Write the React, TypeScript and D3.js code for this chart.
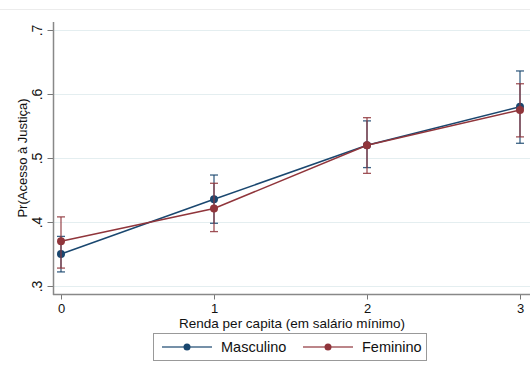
import React, { useRef, useEffect } from 'react';
import * as d3 from "d3";

// renda per capita (salário mínimo)
const categories = [0, 1, 2, 3];
const yTicks = [0.3, 0.4, 0.5, 0.6, 0.7];

const masculino = [0.35, 0.4355, 0.52, 0.58];
const masculinoLow = [0.322, 0.398, 0.485, 0.523];
const masculinoHigh = [0.3775, 0.4734, 0.558, 0.636];

const feminino = [0.37, 0.421, 0.52, 0.575];
const femininoLow = [0.328, 0.385, 0.476, 0.533];
const femininoHigh = [0.408, 0.4605, 0.563, 0.616];

const seriesNames = ["Masculino", "Feminino"];

export default function App() {
    const svgRef = useRef<SVGSVGElement>(null);

    useEffect(() => {
        var width = 530,
            height = 370;

        var svg = d3.select(svgRef.current);
        svg.selectAll("*").remove();

        var x = d3.scaleLinear().domain([0, 3]).range([61, 520]);
        var y = d3.scaleLinear().domain([0.3, 0.7]).range([286, 30]);

        var left = 53, bottom = 294, top = 22;
        var font = "'Liberation Sans', Arial, sans-serif";

        svg.append("rect").attr("width", width).attr("height", height).attr("fill", "#fff");
        // faint frame line at top
        svg.append("line")
            .attr("x1", 0).attr("x2", width).attr("y1", 9.5).attr("y2", 9.5)
            .attr("stroke", "#ececec");

        // grid
        svg.append("g").selectAll("line")
            .data(yTicks)
            .enter().append("line")
            .attr("x1", left).attr("x2", width)
            .attr("y1", d => Math.round(y(d)) + 0.5)
            .attr("y2", d => Math.round(y(d)) + 0.5)
            .attr("stroke", "#e4eef0");

        // y axis
        var yAxis = d3.axisLeft(y)
            .tickValues(yTicks)
            .tickSize(6)
            .tickSizeOuter(0)
            .tickFormat(d => d3.format(".1f")(d as number).replace(/^0/, ""));
        var gy = svg.append("g")
            .attr("transform", "translate(" + (left + 0.5) + ",0)")
            .call(yAxis);
        gy.select(".domain").remove();
        gy.selectAll(".tick line").attr("stroke", "#777");
        gy.selectAll(".tick text")
            .attr("transform", "rotate(-90)")
            .attr("x", 0).attr("y", -12).attr("dy", 0)
            .attr("text-anchor", "middle")
            .attr("font-family", font).attr("font-size", 14).attr("fill", "#111");
        svg.append("line")
            .attr("x1", left + 0.5).attr("x2", left + 0.5)
            .attr("y1", top).attr("y2", bottom + 1)
            .attr("stroke", "#888").attr("stroke-width", 1.5);

        // x axis
        var xAxis = d3.axisBottom(x)
            .tickValues(categories)
            .tickSize(5)
            .tickSizeOuter(0)
            .tickFormat(d3.format("d"));
        var gx = svg.append("g")
            .attr("transform", "translate(0," + (bottom + 0.5) + ")")
            .call(xAxis);
        gx.select(".domain").remove();
        gx.selectAll(".tick line").attr("stroke", "#777");
        gx.selectAll(".tick text")
            .attr("y", 18).attr("dy", 0)
            .attr("font-family", font).attr("font-size", 13).attr("fill", "#111");
        svg.append("line")
            .attr("x1", left).attr("x2", width)
            .attr("y1", bottom + 0.5).attr("y2", bottom + 0.5)
            .attr("stroke", "#888").attr("stroke-width", 1.5);

        // titles
        svg.append("text")
            .attr("x", 292).attr("y", 328)
            .attr("text-anchor", "middle")
            .attr("font-family", font).attr("font-size", 13.5).attr("fill", "#111")
            .text("Renda per capita (em salário mínimo)");
        svg.append("text")
            .attr("transform", "translate(27," + y(0.5) + ") rotate(-90)")
            .attr("text-anchor", "middle")
            .attr("font-family", font).attr("font-size", 13).attr("fill", "#111")
            .text("Pr(Acesso à Justiça)");

        var series = [
            { name: seriesNames[0], color: "#1a476f", mid: masculino, lo: masculinoLow, hi: masculinoHigh },
            { name: seriesNames[1], color: "#90353b", mid: feminino, lo: femininoLow, hi: femininoHigh }
        ];

        var line = d3.line<number>()
            .x((d, i) => x(categories[i]))
            .y(d => y(d));

        series.forEach(function (s) {
            var g = svg.append("g");
            g.append("path")
                .datum(s.mid)
                .attr("d", line)
                .attr("fill", "none")
                .attr("stroke", s.color)
                .attr("stroke-width", 1.5);
            // error bars
            var eb = g.selectAll("g.eb")
                .data(categories)
                .enter().append("g");
            eb.append("line")
                .attr("x1", d => x(d)).attr("x2", d => x(d))
                .attr("y1", (d, i) => y(s.lo[i])).attr("y2", (d, i) => y(s.hi[i]))
                .attr("stroke", s.color).attr("stroke-width", 1.3).attr("opacity", 0.85);
            eb.append("line")
                .attr("x1", d => x(d) - 4).attr("x2", d => x(d) + 4)
                .attr("y1", (d, i) => y(s.lo[i])).attr("y2", (d, i) => y(s.lo[i]))
                .attr("stroke", s.color).attr("stroke-width", 1.3).attr("opacity", 0.85);
            eb.append("line")
                .attr("x1", d => x(d) - 4).attr("x2", d => x(d) + 4)
                .attr("y1", (d, i) => y(s.hi[i])).attr("y2", (d, i) => y(s.hi[i]))
                .attr("stroke", s.color).attr("stroke-width", 1.3).attr("opacity", 0.85);
            g.selectAll("circle")
                .data(s.mid)
                .enter().append("circle")
                .attr("cx", (d, i) => x(categories[i]))
                .attr("cy", d => y(d))
                .attr("r", 4)
                .attr("fill", s.color);
        });

        // legend
        var lg = svg.append("g");
        lg.append("rect")
            .attr("x", 153.5).attr("y", 333.5).attr("width", 273).attr("height", 27)
            .attr("fill", "#fff").attr("stroke", "#999");
        var legendX = [162, 303];
        series.forEach(function (s, i) {
            var lx = legendX[i];
            lg.append("line")
                .attr("x1", lx).attr("x2", lx + 50).attr("y1", 347).attr("y2", 347)
                .attr("stroke", s.color).attr("stroke-width", 1.3).attr("opacity", 0.8);
            lg.append("circle")
                .attr("cx", lx + 25).attr("cy", 347).attr("r", 3.5).attr("fill", s.color);
            lg.append("text")
                .attr("x", lx + 59).attr("y", 352)
                .attr("font-family", font).attr("font-size", 14.5).attr("fill", "#111")
                .text(s.name);
        });
    }, [])

    return (
        <div style={{ position: "absolute", left: 0, top: 0 }}>
            <svg ref={svgRef} width={530} height={370} style={{ display: "block" }}></svg>
        </div>
    )
}
